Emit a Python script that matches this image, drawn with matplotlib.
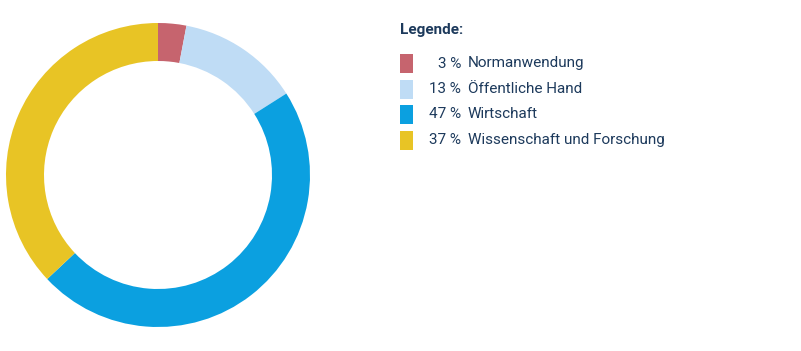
import matplotlib.pyplot as plt
from matplotlib.patches import Rectangle

plt.rcParams['font.family'] = ['Roboto', 'DejaVu Sans']

# Daten
labels = ["Normanwendung", "Öffentliche Hand", "Wirtschaft", "Wissenschaft und Forschung"]
values = [3, 13, 47, 37]
colors = ["#c6646e", "#bfdcf5", "#0ba0e0", "#e8c425"]
text_col = "#1d3a5c"

fig = plt.figure(figsize=(8.01, 3.51), dpi=100)

# Ring
ax = fig.add_axes([6 / 801, 24 / 351, 304 / 801, 304 / 351])
ax.pie(values, colors=colors, startangle=90, counterclock=False,
       radius=1, wedgeprops=dict(width=0.25, linewidth=0))
ax.set_xlim(-1, 1)
ax.set_ylim(-1, 1)
ax.set_aspect("equal")
ax.axis("off")

# Legende
fig.text(400 / 801, 1 - 30 / 351, "Legende:", fontsize=11, fontweight="bold",
         color=text_col, va="center", ha="left")
for i, (lab, val, col) in enumerate(zip(labels, values, colors)):
    yc = 63.5 + i * 25.5
    fig.patches.append(Rectangle((400 / 801, 1 - (yc + 9.5) / 351), 13 / 801, 19 / 351,
                                 transform=fig.transFigure, facecolor=col, edgecolor="none"))
    fig.text(461 / 801, 1 - yc / 351, f"{val} %", fontsize=11, color=text_col,
             va="center", ha="right")
    fig.text(468 / 801, 1 - yc / 351, lab, fontsize=11, color=text_col,
             va="center", ha="left")

fig.savefig("out.png", dpi=100)
